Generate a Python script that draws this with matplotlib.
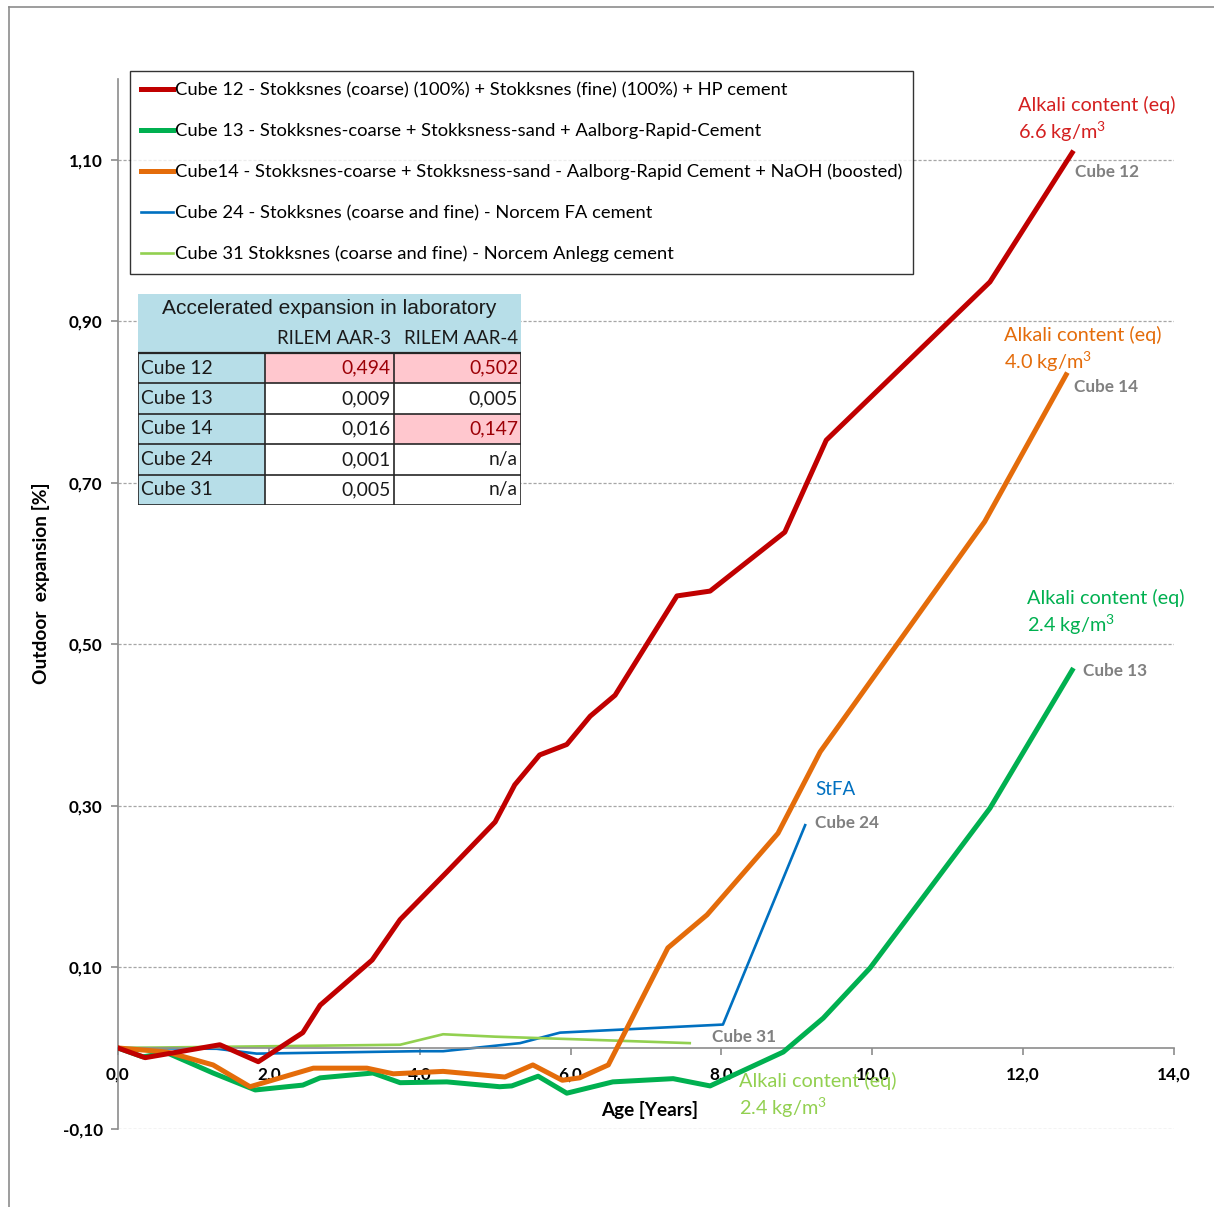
import matplotlib
matplotlib.use("Agg")
import matplotlib.pyplot as plt
from matplotlib.lines import Line2D
from matplotlib.patches import Rectangle
from matplotlib.ticker import FixedLocator, FuncFormatter

plt.rcParams['font.family'] = ['Lato', 'DejaVu Sans']
plt.rcParams['mathtext.fontset'] = 'custom'
plt.rcParams['mathtext.rm'] = 'Lato'

# -----------------------------
# Outdoor expansion [%] vs age [years]
# -----------------------------
cube12_age = [0.0, 0.36, 1.35, 1.86, 2.45, 2.68, 3.37, 3.74, 4.36, 5.0, 5.26,
              5.59, 5.95, 6.26, 6.59, 7.41, 7.85, 8.84, 9.39, 11.56, 12.65]
cube12_exp = [0.0, -0.012, 0.004, -0.017, 0.019, 0.053, 0.109, 0.159, 0.218, 0.280,
              0.326, 0.363, 0.376, 0.411, 0.437, 0.560, 0.566, 0.639, 0.753, 0.949, 1.109]

cube13_age = [0.0, 0.33, 0.65, 1.26, 1.82, 2.45, 2.68, 3.38, 3.74, 4.36, 5.06, 5.22,
              5.57, 5.95, 6.56, 7.36, 7.85, 8.82, 9.35, 9.97, 11.56, 12.65]
cube13_exp = [0.0, -0.011, -0.006, -0.031, -0.052, -0.046, -0.037, -0.031, -0.043,
              -0.042, -0.048, -0.047, -0.035, -0.056, -0.042, -0.038, -0.047, -0.005,
              0.037, 0.099, 0.297, 0.468]

cube14_age = [0.0, 0.65, 1.26, 1.75, 2.59, 3.30, 3.65, 4.31, 5.13, 5.50, 5.89, 6.12,
              6.50, 7.29, 7.81, 8.75, 9.31, 11.49, 12.57]
cube14_exp = [0.0, -0.005, -0.021, -0.048, -0.025, -0.025, -0.032, -0.029, -0.036,
              -0.021, -0.040, -0.037, -0.021, 0.124, 0.165, 0.266, 0.367, 0.652, 0.834]

cube24_age = [0.0, 1.31, 1.84, 3.96, 4.31, 5.33, 5.86, 8.02, 9.11]
cube24_exp = [0.0, -0.001, -0.007, -0.004, -0.004, 0.006, 0.019, 0.029, 0.276]

cube31_age = [0.0, 3.74, 4.31, 5.0, 6.0, 7.58]
cube31_exp = [0.0, 0.004, 0.017, 0.014, 0.011, 0.006]

legend_labels = [
    "Cube 12 - Stokksnes (coarse) (100%) + Stokksnes (fine) (100%) + HP cement",
    "Cube 13 - Stokksnes-coarse + Stokksness-sand + Aalborg-Rapid-Cement",
    "Cube14 - Stokksnes-coarse + Stokksness-sand - Aalborg-Rapid Cement + NaOH (boosted)",
    "Cube 24 - Stokksnes (coarse and fine) - Norcem FA cement",
    "Cube 31 Stokksnes (coarse and fine) - Norcem Anlegg cement",
]

# laboratory results table
table_title = "Accelerated expansion in laboratory"
table_cols = ["RILEM AAR-3", "RILEM AAR-4"]
table_rows = ["Cube 12", "Cube 13", "Cube 14", "Cube 24", "Cube 31"]
aar3 = ["0,494", "0,009", "0,016", "0,001", "0,005"]
aar4 = ["0,502", "0,005", "0,147", "n/a", "n/a"]
aar3_flag = [True, False, False, False, False]
aar4_flag = [True, False, True, False, False]

RED = '#C00000'
GREEN = '#00B050'
ORANGE = '#E46C0A'
BLUE = '#0070C0'
LGREEN = '#92D050'
GRAY = '#808080'

W, H = 1214, 1207
fig = plt.figure(figsize=(W / 100, H / 100), dpi=100)

# frame around the chart area
fig.add_artist(Line2D([9 / W, 1], [1 - 7 / H, 1 - 7 / H], color='#8c8c8c', lw=1.2))
fig.add_artist(Line2D([9 / W, 9 / W], [0, 1 - 7 / H], color='#8c8c8c', lw=1.2))

ax = fig.add_axes([118 / W, 1 - 1128.7 / H, (1174 - 118) / W, (1128.7 - 79.3) / H])
ax.set_xlim(0, 14)
ax.set_ylim(-0.1, 1.2)

h12, = ax.plot(cube12_age, cube12_exp, color=RED, lw=3.6, zorder=5)
h13, = ax.plot(cube13_age, cube13_exp, color=GREEN, lw=3.6, zorder=3)
h14, = ax.plot(cube14_age, cube14_exp, color=ORANGE, lw=3.6, zorder=4)
h24, = ax.plot(cube24_age, cube24_exp, color=BLUE, lw=1.9, zorder=2)
h31, = ax.plot(cube31_age, cube31_exp, color=LGREEN, lw=1.9, zorder=2)

# axes styling
for s in ['top', 'right']:
    ax.spines[s].set_visible(False)
ax.spines['bottom'].set_position(('data', 0))
ax.spines['bottom'].set_color('#8c8c8c')
ax.spines['left'].set_color('#8c8c8c')
ax.spines['bottom'].set_linewidth(1.2)
ax.spines['left'].set_linewidth(1.2)

yt = [-0.1, 0.1, 0.3, 0.5, 0.7, 0.9, 1.1]
ax.yaxis.set_major_locator(FixedLocator(yt))
ax.yaxis.set_major_formatter(FuncFormatter(lambda v, p: f"{v:.2f}".replace('.', ',')))
ax.xaxis.set_major_locator(FixedLocator(range(0, 15, 2)))
ax.xaxis.set_major_formatter(FuncFormatter(lambda v, p: f"{v:.1f}".replace('.', ',')))
ax.tick_params(axis='both', colors='#8c8c8c', length=5, width=1.2, labelcolor='black',
               labelsize=12.3)
ax.tick_params(axis='y', pad=6)
ax.tick_params(axis='x', pad=8)
for lab in ax.get_xticklabels() + ax.get_yticklabels():
    lab.set_fontweight('bold')
ax.yaxis.grid(True, linestyle=(0, (2.5, 1.5)), color='#a6a6a6', lw=0.9)
ax.set_axisbelow(True)

ax.set_ylabel("Outdoor  expansion [%]", fontsize=13.8, fontweight='bold')
ax.yaxis.set_label_coords(-0.064, 0.52)
ax.text(7.05, -0.077, "Age [Years]", ha='center', va='center', fontsize=13.6,
        fontweight='bold')

# curve annotations
note_kw = dict(fontsize=14.3, ha='left', va='center', linespacing=1.25)
unit = r"kg/m$^\mathregular{3}$"
ax.text(11.93, 1.150, "Alkali content (eq)\n6.6 " + unit, color='#D42020', **note_kw)
ax.text(11.75, 0.865, "Alkali content (eq)\n4.0 " + unit, color=ORANGE, **note_kw)
ax.text(12.05, 0.539, "Alkali content (eq)\n2.4 " + unit, color=GREEN, **note_kw)
ax.text(8.23, -0.059, "Alkali content (eq)\n2.4 " + unit, color=LGREEN, **note_kw)
ax.text(9.24, 0.320, "StFA", color=BLUE, fontsize=13.5, ha='left', va='center')
for x, y, name in [(12.69, 1.085, "Cube 12"), (12.67, 0.819, "Cube 14"),
                   (12.79, 0.467, "Cube 13"), (9.24, 0.279, "Cube 24"),
                   (7.87, 0.0136, "Cube 31")]:
    ax.text(x, y, name, color=GRAY, fontsize=12.3, fontweight='bold', ha='left', va='center')

leg = ax.legend([h12, h13, h14, h24, h31], legend_labels, loc='upper left',
                bbox_to_anchor=(130 / W, 1 - 71 / H), bbox_transform=fig.transFigure,
                fontsize=13.25, labelspacing=1.34, handlelength=1.72, handletextpad=0.08,
                borderpad=0.62, borderaxespad=0, fancybox=False, frameon=True)
leg.get_frame().set_edgecolor('black')
leg.get_frame().set_linewidth(1.0)
leg.set_zorder(10)

# -----------------------------
# Laboratory table
# -----------------------------
tx0, ty0, tx1, ty1 = 138, 294, 521, 505
tab = fig.add_axes([tx0 / W, 1 - ty1 / H, (tx1 - tx0) / W, (ty1 - ty0) / H])
tab.set_xlim(0, tx1 - tx0)
tab.set_ylim(ty1 - ty0, 0)
tab.axis('off')
tab.set_zorder(11)

col_x = [0, 127, 256, 383]
head_h = 59
row_h = (ty1 - ty0 - head_h) / len(table_rows)
LBLUE = '#B7DEE8'
PINK = '#FFC7CE'

tab.add_patch(Rectangle((0, 0), col_x[-1], head_h, facecolor=LBLUE, edgecolor='none'))
tab.text(col_x[-1] / 2, 15, table_title, ha='center', va='center', fontsize=15.1,
         family=['Liberation Sans Narrow', 'Liberation Sans'], color='#1a1a1a')
for j, c in enumerate(table_cols):
    tab.text(col_x[j + 2] - 3, 45, c, ha='right', va='center', fontsize=13.4, color='#1a1a1a')

for i, name in enumerate(table_rows):
    y0 = head_h + i * row_h
    tab.add_patch(Rectangle((0, y0), col_x[1], row_h, facecolor=LBLUE, edgecolor='none'))
    tab.text(3, y0 + row_h / 2, name, ha='left', va='center', fontsize=13.9, color='#1a1a1a')
    for j, (val, flag) in enumerate([(aar3[i], aar3_flag[i]), (aar4[i], aar4_flag[i])]):
        fc = PINK if flag else 'white'
        tab.add_patch(Rectangle((col_x[j + 1], y0), col_x[j + 2] - col_x[j + 1], row_h,
                                facecolor=fc, edgecolor='none'))
        tab.text(col_x[j + 2] - 3, y0 + row_h / 2, val, ha='right', va='center',
                 fontsize=13.9, color='#9C0006' if flag else '#1a1a1a')

# cell borders
for i in range(len(table_rows) + 1):
    y = head_h + i * row_h
    tab.plot([0, col_x[-1]], [y, y], color='#262626', lw=1.6 if i == 0 else 1.2)
for x in col_x:
    tab.plot([x, x], [head_h, ty1 - ty0], color='#262626', lw=1.2)

fig.savefig("out.png", dpi=100)
